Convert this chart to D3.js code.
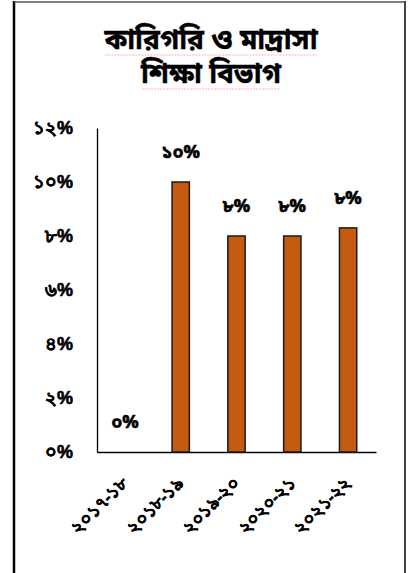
<!DOCTYPE html>
<html><head><meta charset="utf-8">
<script src="https://cdn.jsdelivr.net/npm/d3@7"></script>
<style>body{margin:0;background:#fff;}svg{display:block;font-family:"Noto Sans Bengali","Noto Sans","DejaVu Sans",sans-serif;}</style>
</head><body>
<script>
const categories = ["২০১৭-১৮","২০১৮-১৯","২০১৯-২০","২০২০-২১","২০২১-২২"];
const values = [0, 10, 8, 8, 8.3];
const valueLabels = ["০%","১০%","৮%","৮%","৮%"];
const tickValues = [0,2,4,6,8,10,12];
const tickLabels = ["০%","২%","৪%","৬%","৮%","১০%","১২%"];
const titleLines = ["কারিগরি ও মাদ্রাসা","শিক্ষা বিভাগ"];

const W=411,H=573;
const svg=d3.select("body").append("svg").attr("width",W).attr("height",H);
// frame
svg.append("line").attr("x1",14).attr("x2",14).attr("y1",1).attr("y2",H).attr("stroke","#000").attr("stroke-width",2.5);
svg.append("line").attr("x1",14).attr("x2",406).attr("y1",2).attr("y2",2).attr("stroke","#555").attr("stroke-width",1.5);
svg.append("line").attr("x1",405).attr("x2",405).attr("y1",1).attr("y2",H).attr("stroke","#444").attr("stroke-width",2);

const x=d3.scaleBand().domain(categories).range([97,376]).paddingInner(0.69).paddingOuter(0.345);
const y=d3.scaleLinear().domain([0,12]).range([452,128]);

// title
const tg=svg.append("g");
titleLines.forEach((t,i)=>{
  const el=tg.append("text").attr("x",211).attr("y",49+i*34).attr("text-anchor","middle")
    .attr("font-size",28).attr("font-weight","bold").attr("stroke","#000").attr("stroke-width",0.4).text(t);
  const b=el.node().getBBox();
  tg.append("line").attr("x1",b.x+2).attr("x2",b.x+b.width-2).attr("y1",49+i*34+6).attr("y2",49+i*34+6)
    .attr("stroke","#f2a0a0").attr("stroke-width",0.8).attr("stroke-dasharray","2,1");
});

// y axis
const ya=svg.append("g").attr("transform","translate(97,0)").call(d3.axisLeft(y).tickValues(tickValues).tickSize(0).tickFormat((d,i)=>tickLabels[i]));
ya.select(".domain").attr("stroke","#000").attr("stroke-width",1.3);
ya.selectAll("text").attr("x",-24).attr("font-size",18).attr("font-weight","bold").attr("fill","#000")
  .attr("stroke","#000").attr("stroke-width",0.6).attr("font-family","inherit");

// x axis
const xa=svg.append("g").attr("transform","translate(0,452)").call(d3.axisBottom(x).tickSize(0));
xa.select(".domain").attr("stroke","#000").attr("stroke-width",1.5);
xa.selectAll("text").attr("font-size",17).attr("font-weight","bold").attr("fill","#000")
  .attr("stroke","#000").attr("stroke-width",0.6).attr("font-family","inherit")
  .attr("text-anchor","end").attr("dy",0).attr("y",0)
  .attr("transform","translate(4,32) rotate(-45)");

// bars
svg.selectAll("rect.bar").data(values).join("rect").attr("class","bar")
  .attr("x",(d,i)=>x(categories[i])).attr("width",x.bandwidth())
  .attr("y",d=>y(d)).attr("height",d=>y(0)-y(d))
  .attr("fill","#c55a11").attr("stroke","#1a1a1a").attr("stroke-width",1.5);

// value labels
svg.selectAll("text.vl").data(values).join("text").attr("class","vl")
  .attr("x",(d,i)=>x(categories[i])+x.bandwidth()/2).attr("y",d=>y(d)-24)
  .attr("text-anchor","middle").attr("font-size",18).attr("font-weight","bold")
  .attr("stroke","#000").attr("stroke-width",0.6)
  .text((d,i)=>valueLabels[i]);
</script>
</body></html>
